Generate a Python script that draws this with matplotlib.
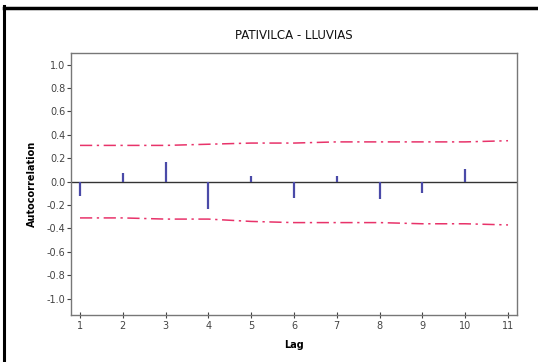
import numpy as np
import matplotlib.pyplot as plt
from matplotlib.lines import Line2D

# datos
lags = [1, 2, 3, 4, 5, 6, 7, 8, 9, 10]
acf = [-0.12, 0.07, 0.17, -0.23, 0.05, -0.14, 0.05, -0.15, -0.10, 0.11]

lags_lim = [1, 2, 3, 4, 5, 6, 7, 8, 9, 10, 11]
lim_sup = [0.31, 0.31, 0.31, 0.32, 0.33, 0.33, 0.34, 0.34, 0.34, 0.34, 0.35]
lim_inf = [-0.31, -0.31, -0.32, -0.32, -0.34, -0.35, -0.35, -0.35, -0.36, -0.36, -0.37]

yticks = [1.0, 0.8, 0.6, 0.4, 0.2, 0.0, -0.2, -0.4, -0.6, -0.8, -1.0]

fig = plt.figure(figsize=(5.38, 3.62), dpi=100)
ax = fig.add_axes([71 / 538, 1 - 315 / 362, (517 - 71) / 538, (315 - 53) / 362])

ax.axhline(0, color='#333333', linewidth=1.0, zorder=1)
ax.vlines(lags, 0, acf, color='#4a4aa8', linewidth=1.6, zorder=2)
ax.plot(lags_lim, lim_sup, color='#e8336a', linewidth=1.1, linestyle=(0, (8, 3, 1.5, 3)))
ax.plot(lags_lim, lim_inf, color='#e8336a', linewidth=1.1, linestyle=(0, (8, 3, 1.5, 3)))

ax.set_xlim(0.79, 11.21)
ax.set_ylim(-1.14, 1.10)
ax.set_xticks(lags_lim)
ax.set_yticks(yticks)
ax.set_yticklabels(['%.1f' % v for v in yticks])
ax.tick_params(axis='y', direction='out', length=3, labelsize=7, colors='#444444', pad=1)
ax.tick_params(axis='x', direction='inout', length=4, labelsize=7, colors='#444444', pad=2)

for s in ax.spines.values():
    s.set_color('#777777')
    s.set_linewidth(1.0)

ax.set_title('PATIVILCA - LLUVIAS', fontsize=8.5, color='#111111', pad=10)
ax.set_xlabel('Lag', fontsize=7, fontweight='bold', labelpad=7)
ax.set_ylabel('Autocorrelation', fontsize=7, fontweight='bold', labelpad=7)

# marco negro del recorte
fig.add_artist(Line2D([4 / 538, 4 / 538], [0, 1 - 6 / 362], color='black', linewidth=2.2))
fig.add_artist(Line2D([4 / 538, 1], [1 - 8 / 362, 1 - 8 / 362], color='black', linewidth=2.5))

fig.savefig('out.png', dpi=100)
